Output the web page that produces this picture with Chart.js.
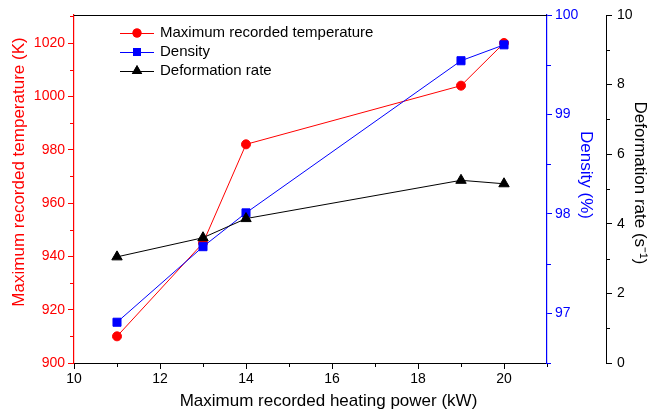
<!DOCTYPE html>
<html>
<head>
<meta charset="utf-8">
<script src="https://cdn.jsdelivr.net/npm/chart.js@4.4.1/dist/chart.umd.min.js"></script>
<style>
  html, body { margin: 0; padding: 0; background: #fff; }
  #wrap { width: 651px; height: 410px; }
</style>
</head>
<body>
<div id="wrap"><canvas id="chart" width="651" height="410"></canvas></div>
<script>
// values
const powerKW = [11, 13, 14, 19, 20];
const maxTemperature = [910, 945, 982, 1004, 1020];
const density = [96.91, 97.67, 98.01, 99.54, 99.7];
const deformationRate = [3.05, 3.6, 4.15, 5.25, 5.15];

const seriesNames = ['Maximum recorded temperature', 'Density', 'Deformation rate'];

const RED = '#ff0000';
const BLUE = '#0000ff';
const BLACK = '#000000';
const FONT = '"Liberation Sans", Arial, sans-serif';

Chart.defaults.font.family = FONT;

function pairs(ys) {
    return powerKW.map((x, i) => ({ x: x, y: ys[i] }));
}

// plain numbers, no thousands separator
const plain = v => String(v);

// minor tick spacing per axis
const minorSteps = { x: 1, y: 10, y1: 0.5, y2: 1 };

// axis titles are drawn by hand: the original ones sit a bit off centre
const axisTitles = [
    { axis: 'x', text: 'Maximum recorded heating power (kW)', color: BLACK, shift: 18, rot: 0 },
    { axis: 'y', text: 'Maximum recorded temperature (K)', color: RED, shift: -17, rot: -90 },
    { axis: 'y1', text: 'Density (%)', color: BLUE, shift: -14, rot: 90 },
    { axis: 'y2', text: 'Deformation rate (s\u207B\u00B9)', color: BLACK, shift: -6, rot: 90 }
];

const extras = {
    id: 'extras',
    afterDraw(chart) {
        const ctx = chart.ctx;
        const area = chart.chartArea;
        ctx.save();

        // top frame line
        ctx.strokeStyle = BLACK;
        ctx.lineWidth = 1;
        ctx.beginPath();
        ctx.moveTo(area.left, area.top + 0.5);
        ctx.lineTo(area.right, area.top + 0.5);
        ctx.stroke();

        // minor ticks
        Object.keys(minorSteps).forEach(id => {
            const scale = chart.scales[id];
            const step = minorSteps[id];
            const major = scale.options.ticks.stepSize;
            ctx.strokeStyle = scale.options.border.color;
            ctx.lineWidth = 1;
            ctx.beginPath();
            for (let i = Math.ceil(scale.min / step - 1e-9); i * step <= scale.max + 1e-9; i++) {
                const v = i * step;
                if (Math.abs(v / major - Math.round(v / major)) < 1e-6) continue;
                const p = Math.round(scale.getPixelForValue(v)) + 0.5;
                if (id === 'x') {
                    ctx.moveTo(p, area.bottom);
                    ctx.lineTo(p, area.bottom + 4);
                } else if (id === 'y') {
                    ctx.moveTo(area.left, p);
                    ctx.lineTo(area.left - 4, p);
                } else {
                    ctx.moveTo(scale.left, p);
                    ctx.lineTo(scale.left + 4, p);
                }
            }
            ctx.stroke();
        });

        // axis titles
        ctx.font = '17px ' + FONT;
        ctx.textAlign = 'center';
        ctx.textBaseline = 'middle';
        axisTitles.forEach(t => {
            const s = chart.scales[t.axis];
            let cx, cy;
            if (t.axis === 'x') {
                cx = (area.left + area.right) / 2 + t.shift;
                cy = s.bottom - 9;
            } else {
                cy = (area.top + area.bottom) / 2 + t.shift;
                if (t.axis === 'y') cx = s.left + 19;
                else if (t.axis === 'y1') cx = s.right - 20;
                else cx = s.right - 11;
            }
            ctx.save();
            ctx.translate(cx, cy);
            ctx.rotate(t.rot * Math.PI / 180);
            ctx.fillStyle = t.color;
            ctx.fillText(t.text, 0, 0);
            ctx.restore();
        });

        // legend inside plot
        ctx.font = '15px ' + FONT;
        ctx.textAlign = 'left';
        ctx.textBaseline = 'middle';
        chart.data.datasets.forEach((ds, i) => {
            const y = 33 + i * 19;
            ctx.strokeStyle = ds.borderColor;
            ctx.lineWidth = 1;
            ctx.beginPath();
            ctx.moveTo(120, y + 0.5);
            ctx.lineTo(154, y + 0.5);
            ctx.stroke();
            ctx.fillStyle = ds.pointBackgroundColor;
            Chart.helpers.drawPoint(ctx, {
                pointStyle: ds.pointStyle,
                radius: ds.pointRadius,
                rotation: 0,
                borderWidth: 0
            }, 137, y);
            ctx.fill();
            ctx.fillStyle = BLACK;
            ctx.fillText(ds.label, 160, y);
        });

        ctx.restore();
    }
};

const ctx = document.getElementById('chart').getContext('2d');
new Chart(ctx, {
    type: 'line',
    data: {
        datasets: [{
            label: seriesNames[0],
            data: pairs(maxTemperature),
            yAxisID: 'y',
            borderColor: RED,
            pointBackgroundColor: RED,
            pointBorderColor: RED,
            pointStyle: 'circle',
            pointRadius: 4.5,
            borderWidth: 1,
            order: 3
        }, {
            label: seriesNames[1],
            data: pairs(density),
            yAxisID: 'y1',
            borderColor: BLUE,
            pointBackgroundColor: BLUE,
            pointBorderColor: BLUE,
            pointStyle: 'rect',
            pointRadius: 5.7,
            borderWidth: 1,
            order: 2
        }, {
            label: seriesNames[2],
            data: pairs(deformationRate),
            yAxisID: 'y2',
            borderColor: BLACK,
            pointBackgroundColor: BLACK,
            pointBorderColor: BLACK,
            pointStyle: 'triangle',
            pointRadius: 6,
            borderWidth: 1,
            order: 1
        }]
    },
    options: {
        animation: false,
        responsive: false,
        devicePixelRatio: 1,
        layout: { padding: { top: 15, left: 0, right: 0, bottom: 0 } },
        plugins: { legend: { display: false }, tooltip: { enabled: false } },
        scales: {
            x: {
                type: 'linear',
                min: 10,
                max: 21,
                ticks: { stepSize: 2, includeBounds: false, color: BLACK, font: { size: 14 }, padding: 2, maxRotation: 0, callback: plain },
                grid: { drawOnChartArea: false, tickLength: 6, color: BLACK },
                border: { color: BLACK, width: 1 },
                afterFit: s => { s.height = 47; }
            },
            y: {
                position: 'left',
                min: 900,
                max: 1030.5,
                ticks: { stepSize: 20, includeBounds: false, color: RED, font: { size: 14 }, padding: 3, callback: plain },
                grid: { drawOnChartArea: false, tickLength: 6, color: RED },
                border: { color: RED, width: 1.2 },
                afterFit: s => { s.width = 74; }
            },
            y1: {
                position: 'right',
                weight: 0,
                min: 96.5,
                max: 100,
                ticks: { stepSize: 1, includeBounds: false, color: BLUE, font: { size: 14 }, padding: 3, callback: plain },
                grid: { drawOnChartArea: false, tickLength: 5, color: BLUE },
                border: { color: BLUE, width: 1.2 },
                afterFit: s => { s.width = 59; }
            },
            y2: {
                position: 'right',
                weight: 1,
                min: 0,
                max: 10,
                ticks: { stepSize: 2, includeBounds: false, color: BLACK, font: { size: 14 }, padding: 5, callback: plain },
                grid: { drawOnChartArea: false, tickLength: 6, color: BLACK },
                border: { color: BLACK, width: 1 },
                afterFit: s => { s.width = 45; }
            }
        }
    },
    plugins: [extras]
});
</script>
</body>
</html>
